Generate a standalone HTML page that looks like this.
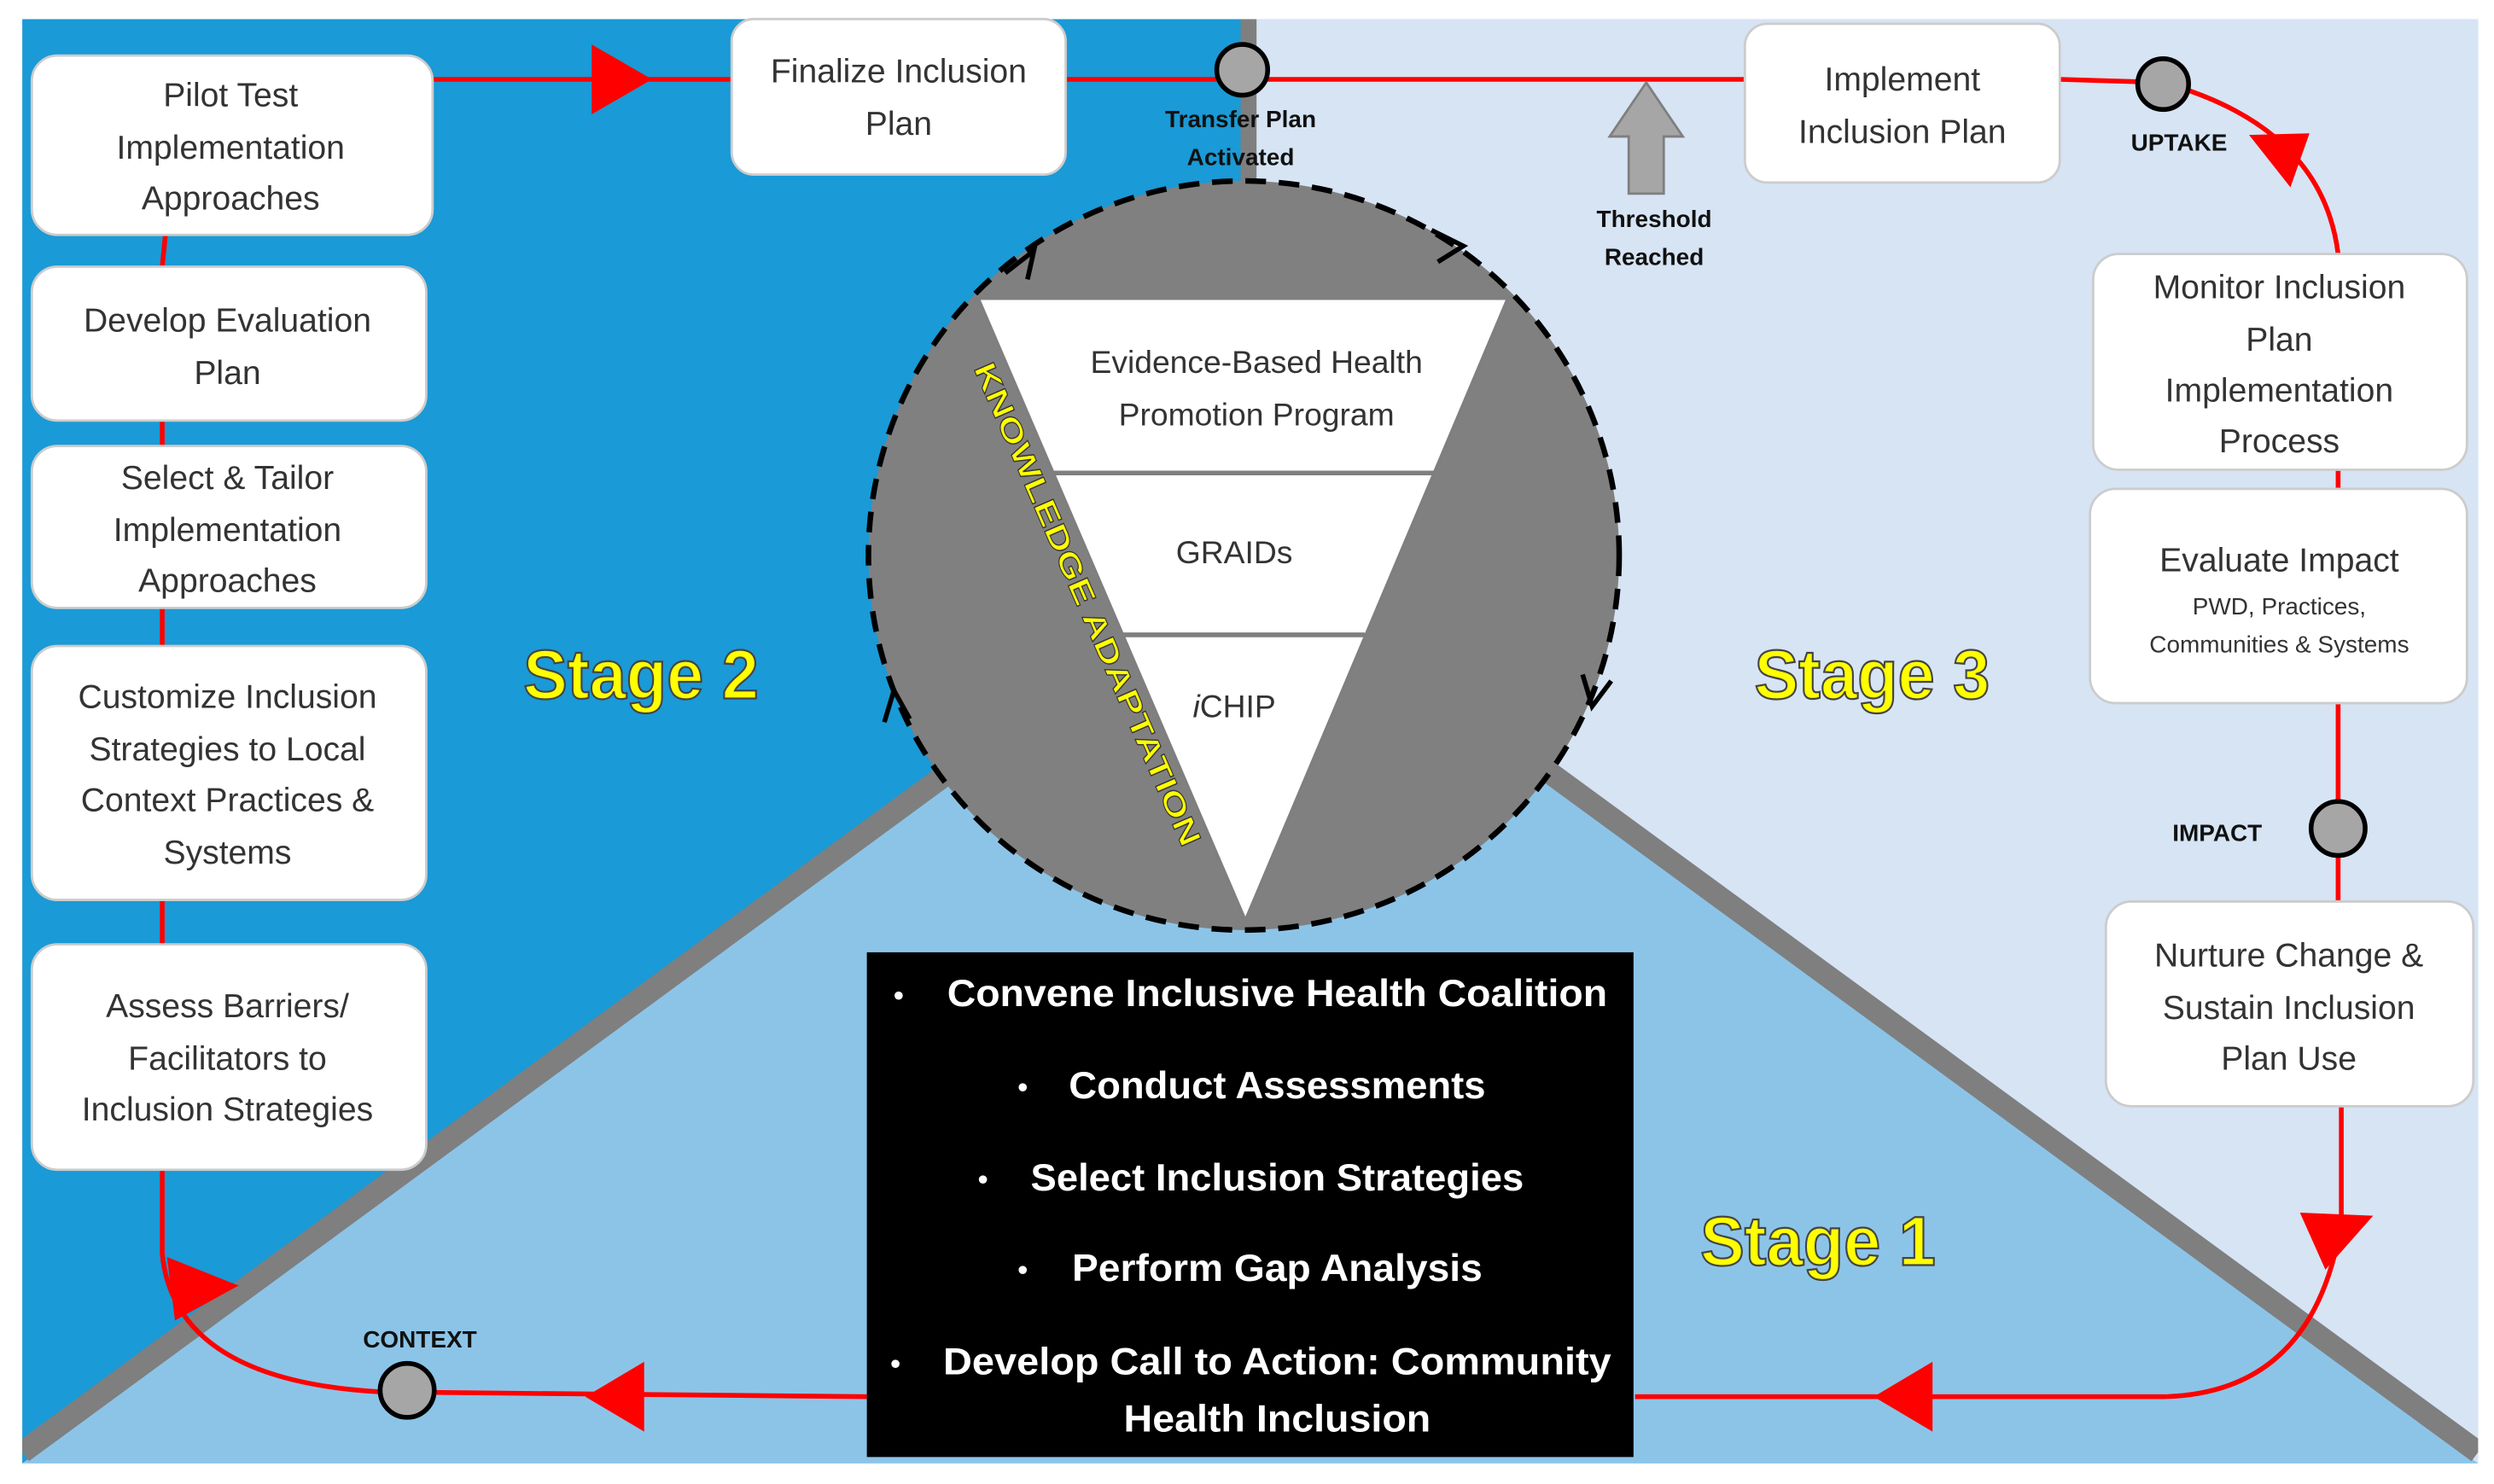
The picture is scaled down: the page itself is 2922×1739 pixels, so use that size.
<!DOCTYPE html>
<html><head><meta charset="utf-8"><style>
html,body{margin:0;padding:0;background:#fff;}
svg{display:block;}
text{font-family:"Liberation Sans",sans-serif;}
</style></head><body>
<svg width="2922" height="1739" viewBox="0 0 1568 935" preserveAspectRatio="none" xmlns="http://www.w3.org/2000/svg">
<defs>
<clipPath id="frame"><rect x="14" y="12" width="1544" height="910"/></clipPath>
</defs>
<g clip-path="url(#frame)">
<rect x="14" y="12" width="1544" height="910" fill="#8cc4e8"/>
<polygon points="14,12 785,12 785,348 14,922" fill="#1a9ad6"/>
<polygon points="785,12 1558,12 1558,922 785,348" fill="#d6e4f4"/>
<polygon points="14,922 785,348 1558,922" fill="#8cc4e8"/>
<line x1="14" y1="915" x2="785" y2="348" stroke="#7f7f7f" stroke-width="14"/>
<line x1="785" y1="348" x2="1558" y2="915" stroke="#7f7f7f" stroke-width="14"/>
<line x1="785" y1="12" x2="785" y2="348" stroke="#7f7f7f" stroke-width="10"/>
</g>
<!-- circle -->
<circle cx="782" cy="350" r="236" fill="#808080" stroke="#000" stroke-width="3.5" stroke-dasharray="13,8"/>
<polygon points="615,188 948,188 783,580" fill="#fff" stroke="#7f7f7f" stroke-width="2"/>
<line x1="662" y1="298" x2="902" y2="298" stroke="#7f7f7f" stroke-width="3"/>
<line x1="706" y1="400" x2="858" y2="400" stroke="#7f7f7f" stroke-width="3"/>
<text x="790" y="235" font-size="20" fill="#333" text-anchor="middle">Evidence-Based  Health</text>
<text x="790" y="268" font-size="20" fill="#333" text-anchor="middle">Promotion Program</text>
<text x="776" y="355" font-size="20" fill="#333" text-anchor="middle">GRAIDs</text>
<text x="776" y="452" font-size="20" fill="#333" text-anchor="middle"><tspan font-style="italic">i</tspan>CHIP</text>
<text transform="translate(612,232) rotate(66.5)" font-size="19" font-weight="bold" fill="#ffff00" stroke="#333" stroke-width="0.6" textLength="330" lengthAdjust="spacingAndGlyphs">KNOWLEDGE ADAPTATION</text>
<!-- circular arrowheads -->
<path d="M632,172 l18,-14 l-4,18" fill="none" stroke="#000" stroke-width="3"/>
<path d="M900,145 l20,10 l-16,10" fill="none" stroke="#000" stroke-width="3"/>
<path d="M995,425 l6,20 l12,-16" fill="none" stroke="#000" stroke-width="3"/>
<path d="M556,455 l6,-20 l10,18" fill="none" stroke="#000" stroke-width="3"/>
<!-- red connectors -->
<g stroke="#ff0000" stroke-width="3" fill="none">
<line x1="272" y1="50" x2="460" y2="50"/>
<line x1="670" y1="50" x2="1097" y2="50"/>
<path d="M1295,50 L1360,52 Q1460,80 1470,160"/>
<line x1="104" y1="148" x2="102" y2="168"/>
<line x1="102" y1="265" x2="102" y2="281"/>
<line x1="102" y1="383" x2="102" y2="407"/>
<line x1="102" y1="567" x2="102" y2="595"/>
<path d="M102,737 L102,790 Q110,870 240,877 L545,880"/>
<line x1="1470" y1="296" x2="1470" y2="308"/>
<line x1="1470" y1="443" x2="1470" y2="568"/>
<path d="M1472,697 L1472,770 Q1455,878 1360,880 L1028,880"/>
</g>
<g fill="#ff0000">
<polygon points="372,28 410,50 372,72"/>
<polygon points="1414,85 1452,84 1440,118"/>
<polygon points="1446,764 1492,766 1462,800"/>
<polygon points="1215,858 1215,902 1178,880"/>
<polygon points="405,858 405,902 368,880"/>
<polygon points="105,792 150,810 110,832"/>
</g>
<!-- gray nodes -->
<g fill="#a6a6a6" stroke="#000" stroke-width="3">
<circle cx="781" cy="44" r="16"/>
<circle cx="1360" cy="53" r="16"/>
<circle cx="1470" cy="522" r="17"/>
<circle cx="256" cy="876" r="17"/>
</g>
<!-- threshold arrow -->
<polygon points="1035,52 1058,86 1046,86 1046,122 1024,122 1024,86 1012,86" fill="#a6a6a6" stroke="#7f7f7f" stroke-width="1.5"/>
<g font-size="15" font-weight="bold" fill="#111" text-anchor="middle">
<text x="780" y="80">Transfer Plan</text>
<text x="780" y="104">Activated</text>
<text x="1040" y="143">Threshold</text>
<text x="1040" y="167">Reached</text>
<text x="1370" y="95">UPTAKE</text>
<text x="1394" y="530">IMPACT</text>
<text x="264" y="849">CONTEXT</text>
</g>
<!-- boxes -->
<g fill="#fff" stroke="#ccc" stroke-width="1.5">
<rect x="20" y="35" width="252" height="113" rx="16"/>
<rect x="20" y="168" width="248" height="97" rx="16"/>
<rect x="20" y="281" width="248" height="102" rx="16"/>
<rect x="20" y="407" width="248" height="160" rx="16"/>
<rect x="20" y="595" width="248" height="142" rx="16"/>
<rect x="460" y="12" width="210" height="98" rx="14"/>
<rect x="1097" y="15" width="198" height="100" rx="14"/>
<rect x="1316" y="160" width="235" height="136" rx="16"/>
<rect x="1314" y="308" width="237" height="135" rx="16"/>
<rect x="1324" y="568" width="231" height="129" rx="16"/>
</g>
<g font-size="21" fill="#333" text-anchor="middle">
<text x="145" y="67">Pilot Test</text>
<text x="145" y="100">Implementation</text>
<text x="145" y="132">Approaches</text>
<text x="143" y="209">Develop Evaluation</text>
<text x="143" y="242">Plan</text>
<text x="143" y="308">Select &amp; Tailor</text>
<text x="143" y="341">Implementation</text>
<text x="143" y="373">Approaches</text>
<text x="143" y="446">Customize Inclusion</text>
<text x="143" y="479">Strategies to Local</text>
<text x="143" y="511">Context Practices &amp;</text>
<text x="143" y="544">Systems</text>
<text x="143" y="641">Assess Barriers/</text>
<text x="143" y="674">Facilitators to</text>
<text x="143" y="706">Inclusion Strategies</text>
<text x="565" y="52">Finalize Inclusion</text>
<text x="565" y="85">Plan</text>
<text x="1196" y="57">Implement</text>
<text x="1196" y="90">Inclusion Plan</text>
<text x="1433" y="188">Monitor Inclusion</text>
<text x="1433" y="221">Plan</text>
<text x="1433" y="253">Implementation</text>
<text x="1433" y="285">Process</text>
<text x="1433" y="360">Evaluate Impact</text>
<text x="1439" y="609">Nurture Change &amp;</text>
<text x="1439" y="642">Sustain Inclusion</text>
<text x="1439" y="674">Plan Use</text>
</g>
<g font-size="15" fill="#333" text-anchor="middle">
<text x="1433" y="387">PWD, Practices,</text>
<text x="1433" y="411">Communities &amp; Systems</text>
</g>
<!-- stage labels -->
<g font-size="44" font-weight="bold" fill="#ffff00" stroke="#444" stroke-width="1.2" text-anchor="middle">
<text x="403" y="440" textLength="148" lengthAdjust="spacingAndGlyphs">Stage 2</text>
<text x="1177" y="440" textLength="148" lengthAdjust="spacingAndGlyphs">Stage 3</text>
<text x="1143" y="797" textLength="148" lengthAdjust="spacingAndGlyphs">Stage 1</text>
</g>
<!-- black box -->
<rect x="545" y="600" width="482" height="318" fill="#000"/>
<g font-size="24" font-weight="bold" fill="#fff" text-anchor="middle">
<text x="565" y="633" font-size="18">•</text>
<text x="803" y="634" textLength="415" lengthAdjust="spacingAndGlyphs">Convene Inclusive Health Coalition</text>
<text x="643" y="691" font-size="18">•</text>
<text x="803" y="692" textLength="262" lengthAdjust="spacingAndGlyphs">Conduct Assessments</text>
<text x="618" y="749" font-size="18">•</text>
<text x="803" y="750" textLength="310" lengthAdjust="spacingAndGlyphs">Select Inclusion Strategies</text>
<text x="643" y="806" font-size="18">•</text>
<text x="803" y="807" textLength="258" lengthAdjust="spacingAndGlyphs">Perform Gap Analysis</text>
<text x="563" y="865" font-size="18">•</text>
<text x="803" y="866" textLength="420" lengthAdjust="spacingAndGlyphs">Develop Call to Action: Community</text>
<text x="803" y="902" textLength="193" lengthAdjust="spacingAndGlyphs">Health Inclusion</text>
</g>
</svg>
</body></html>
